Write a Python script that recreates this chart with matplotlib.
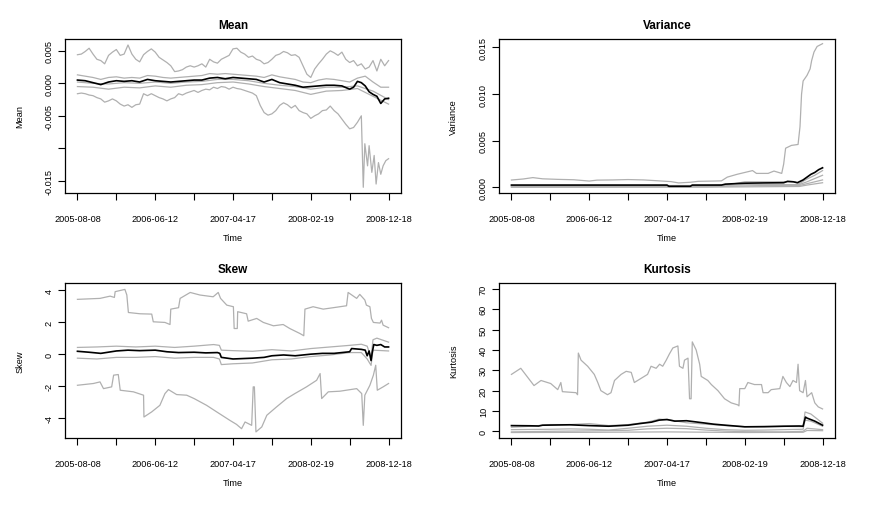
import numpy as np
import matplotlib
matplotlib.use("Agg")
import matplotlib.pyplot as plt

plt.rcParams['font.family'] = ['Liberation Sans', 'DejaVu Sans']

# x positions are given in tick intervals; one interval = 106 trading days
DAYS_PER_TICK = 106
date_labels = ["2005-08-08", "2006-06-12", "2007-04-17", "2008-02-19", "2008-12-18"]

GRID01 = np.round(np.arange(0, 8.05, 0.1), 1)
GRID02 = np.round(np.arange(0, 8.05, 0.2), 1)
GRID04 = np.round(np.arange(0, 8.05, 0.4), 1)

# ---------------- Mean ----------------
mean_max = [0.0044, 0.0045, 0.0049, 0.0054, 0.0045, 0.0037, 0.0035, 0.0030, 0.0043, 0.0048,
            0.0052, 0.0043, 0.0045, 0.0059, 0.0045, 0.0037, 0.0033, 0.0044, 0.0049, 0.0053,
            0.0048, 0.0040, 0.0036, 0.0032, 0.0027, 0.0018, 0.0019, 0.0021, 0.0025, 0.0027,
            0.0025, 0.0027, 0.0030, 0.0025, 0.0037, 0.0033, 0.0031, 0.0037, 0.0040, 0.0043,
            0.0053, 0.0054, 0.0048, 0.0045, 0.0040, 0.0042, 0.0037, 0.0035, 0.0030, 0.0032,
            0.0037, 0.0043, 0.0045, 0.0049, 0.0047, 0.0043, 0.0044, 0.0040, 0.0027, 0.0014,
            0.0009, 0.0022, 0.0030, 0.0037, 0.0045, 0.0050, 0.0047, 0.0043, 0.0048, 0.0037,
            0.0032, 0.0035, 0.0027, 0.0030, 0.0022, 0.0025, 0.0035, 0.0019, 0.0037, 0.0027,
            0.0035]
mean_min_t = list(np.round(np.arange(0, 7.35, 0.1), 1)) + [7.35, 7.39, 7.46, 7.5, 7.57, 7.63,
                                                           7.68, 7.74, 7.8, 7.86, 7.93, 8.0]
mean_min = [-0.0016, -0.0015, -0.0016, -0.0018, -0.0019, -0.0022, -0.0024, -0.0029, -0.0027, -0.0024,
            -0.0027, -0.0032, -0.0035, -0.0033, -0.0037, -0.0033, -0.0032, -0.0016, -0.0019, -0.0016,
            -0.0019, -0.0022, -0.0024, -0.0027, -0.0024, -0.0022, -0.0016, -0.0018, -0.0015, -0.0013,
            -0.0011, -0.0014, -0.0011, -0.0009, -0.0010, -0.0006, -0.0008, -0.0005, -0.0006, -0.0009,
            -0.0006, -0.0008, -0.0009, -0.0011, -0.0013, -0.0015, -0.0019, -0.0034, -0.0045, -0.0049,
            -0.0047, -0.0042, -0.0034, -0.0030, -0.0033, -0.0038, -0.0034, -0.0042, -0.0045, -0.0047,
            -0.0054, -0.0050, -0.0047, -0.0042, -0.0041, -0.0035, -0.0042, -0.0047, -0.0055, -0.0063,
            -0.0070, -0.0068, -0.0060, -0.0050,
            -0.0160, -0.0093, -0.0127, -0.0096, -0.0137, -0.0111, -0.0155, -0.0122, -0.0140, -0.0127,
            -0.0119, -0.0116]
mean_q_hi = [0.0013, 0.0011, 0.0009, 0.0006, 0.0009, 0.0010, 0.0008, 0.0009, 0.0008, 0.0012,
             0.0011, 0.0009, 0.0008, 0.0009, 0.0010, 0.0011, 0.0012, 0.0015, 0.0014, 0.0015,
             0.0014, 0.0013, 0.0012, 0.0011, 0.0009, 0.0013, 0.0010, 0.0008, 0.0006, 0.0002,
             0.0001, 0.0005, 0.0007, 0.0006, 0.0004, 0.0002, 0.0008, 0.0011, 0.0002, -0.0006,
             -0.0006]
mean_q_mid = [0.0002, 0.0000, -0.0001, 0.0001, 0.0000, 0.0002, 0.0000, 0.0002, 0.0003, 0.0006,
              0.0006, 0.0004, 0.0000, -0.0003, -0.0005, -0.0009, -0.0006, -0.0006, -0.0004, -0.0012,
              -0.0025]
mean_q_lo = [-0.0005, -0.0006, -0.0009, -0.0006, -0.0007, -0.0004, -0.0006, -0.0003, -0.0002, 0.0001,
             0.0002, -0.0001, -0.0005, -0.0008, -0.0011, -0.0017, -0.0012, -0.0011, -0.0008, -0.0020,
             -0.0032]
mean_avg_t = list(np.round(np.arange(0, 7.05, 0.2), 1)) + [7.1, 7.2, 7.3, 7.4, 7.5, 7.6, 7.7, 7.8, 7.9, 8.0]
mean_avg = [0.0005, 0.0004, 0.0001, -0.0002, 0.0002, 0.0004, 0.0003, 0.0004, 0.0002, 0.0006,
            0.0004, 0.0003, 0.0002, 0.0003, 0.0004, 0.0005, 0.0005, 0.0008, 0.0009, 0.0007,
            0.0009, 0.0008, 0.0007, 0.0006, 0.0002, 0.0006, 0.0001, -0.0001, -0.0003, -0.0006,
            -0.0005, -0.0004, -0.0003, -0.0003, -0.0004, -0.0009,
            -0.0006, 0.0003, 0.0001, -0.0004, -0.0013, -0.0017, -0.0020, -0.0031, -0.0024, -0.0023]

# ---------------- Variance ----------------
var_max_t = [0, 0.3, 0.55, 0.8, 1.2, 1.6, 2.0, 2.2, 2.6, 3.0, 3.4, 3.8, 4.1, 4.3, 4.6, 4.8, 5.2, 5.4,
             5.55, 5.8, 6.0, 6.2, 6.3, 6.6, 6.75, 6.95, 7.0, 7.05, 7.2, 7.37, 7.42, 7.46, 7.5, 7.6,
             7.68, 7.72, 7.78, 7.86, 8.0]
var_max = [0.00079, 0.0009, 0.00105, 0.00092, 0.00086, 0.00082, 0.00068, 0.00078, 0.0008, 0.00084,
           0.0008, 0.0007, 0.00062, 0.00048, 0.00055, 0.00065, 0.00068, 0.0007, 0.0011, 0.0014,
           0.0016, 0.0018, 0.0015, 0.0015, 0.00175, 0.0015, 0.0025, 0.0042, 0.0045, 0.0046,
           0.0065, 0.0100, 0.0114, 0.0120, 0.0127, 0.0136, 0.0145, 0.0151, 0.0154]
var_g1_t = [0, 3.0, 4.0, 5.0, 5.6, 6.0, 7.0, 7.3, 7.4, 7.6, 7.8, 8.0]
var_g1 = [0.00015, 0.00018, 0.0002, 0.0002, 0.0003, 0.0006, 0.0006, 0.0006, 0.0004, 0.0009, 0.0013, 0.0018]
var_g2_t = [0, 5.0, 6.0, 7.0, 7.4, 7.6, 8.0]
var_g2 = [0.0001, 0.00012, 0.0003, 0.0003, 0.0003, 0.0006, 0.0013]
var_g3_t = [0, 5.0, 6.5, 7.4, 7.6, 8.0]
var_g3 = [0.00005, 0.00008, 0.0002, 0.0002, 0.0004, 0.0008]
var_min_t = [0, 5.0, 7.4, 7.6, 8.0]
var_min = [0.00002, 0.00003, 0.0001, 0.00025, 0.0005]
var_avg_t = [0, 4.0, 4.05, 4.6, 4.65, 5.4, 5.5, 6.0, 6.5, 7.0, 7.1, 7.25, 7.35, 7.5, 7.6, 7.7, 7.8, 7.9, 8.0]
var_avg = [0.00025, 0.00025, 0.00012, 0.00012, 0.00025, 0.00025, 0.00035, 0.00045, 0.00048, 0.0005,
           0.00065, 0.0006, 0.0005, 0.0008, 0.0011, 0.0014, 0.0016, 0.0019, 0.0021]

# ---------------- Skew ----------------
skew_max_t = [0, 0.58, 0.84, 0.95, 0.97, 1.22, 1.27, 1.31, 1.61, 1.91, 1.95, 2.25, 2.38, 2.4, 2.6,
              2.64, 2.9, 3.15, 3.49, 3.62, 3.68, 3.84, 4.01, 4.03, 4.11, 4.12, 4.35, 4.39, 4.61,
              4.78, 5.04, 5.29, 5.46, 5.72, 5.82, 5.85, 6.06, 6.32, 6.58, 6.92, 6.96, 7.18, 7.26,
              7.39, 7.43, 7.52, 7.56, 7.61, 7.78, 7.82, 7.86, 8.0]
skew_max = [3.42, 3.48, 3.62, 3.54, 3.9, 4.04, 3.69, 2.6, 2.52, 2.5, 2.02, 1.98, 1.85, 2.81, 2.9,
            3.48, 3.85, 3.69, 3.58, 3.85, 3.48, 3.06, 2.96, 1.6, 1.6, 2.65, 2.52, 2.06, 2.23,
            1.98, 1.77, 1.85, 1.6, 1.29, 1.15, 2.81, 2.96, 2.81, 2.9, 3.02, 3.85, 3.48, 3.73,
            3.38, 3.06, 2.96, 2.23, 1.98, 1.94, 2.12, 1.81, 1.65]
skew_min_t = [0, 0.41, 0.58, 0.67, 0.88, 0.93, 1.05, 1.1, 1.44, 1.7, 1.71, 1.91, 2.12, 2.25, 2.34,
              2.55, 2.81, 3.0, 3.32, 3.58, 3.92, 4.09, 4.22, 4.31, 4.48, 4.52, 4.55, 4.59, 4.74,
              4.87, 5.12, 5.38, 5.59, 5.89, 6.15, 6.24, 6.28, 6.45, 6.75, 7.18, 7.31, 7.35, 7.39,
              7.52, 7.61, 7.67, 7.71, 7.86, 8.0]
skew_min = [-1.94, -1.83, -1.73, -2.15, -2.04, -1.31, -1.27, -2.25, -2.35, -2.56, -3.92, -3.6, -3.19,
            -2.46, -2.21, -2.52, -2.56, -2.77, -3.19, -3.6, -4.13, -4.38, -4.65, -4.23, -4.44, -2.04,
            -2.04, -4.85, -4.54, -3.81, -3.29, -2.77, -2.46, -2.04, -1.63, -1.21, -2.77, -2.35, -2.31,
            -2.15, -2.46, -4.44, -2.56, -1.94, -1.31, -0.69, -2.25, -2.04, -1.83]
skew_hi_t = [0, 0.5, 1.0, 1.5, 2.0, 2.5, 3.0, 3.5, 3.65, 3.7, 4.0, 4.5, 5.0, 5.5, 6.0, 6.5, 7.0, 7.3,
             7.45, 7.55, 7.6, 7.7, 8.0]
skew_hi = [0.42, 0.45, 0.5, 0.45, 0.5, 0.42, 0.5, 0.6, 0.55, 0.25, 0.22, 0.18, 0.28, 0.2, 0.35, 0.45,
           0.55, 0.62, 0.5, -0.2, 0.9, 1.0, 0.75]
skew_lo_t = [0, 0.5, 1.0, 1.5, 2.0, 2.5, 3.0, 3.5, 3.65, 3.7, 4.0, 4.5, 5.0, 5.5, 6.0, 6.5, 7.0, 7.3,
             7.45, 7.55, 7.6, 8.0]
skew_lo = [-0.25, -0.3, -0.2, -0.2, -0.15, -0.25, -0.2, -0.2, -0.3, -0.65, -0.6, -0.55, -0.35, -0.3,
           -0.15, -0.05, 0.1, 0.1, -0.3, -0.7, 0.25, 0.2]
skew_avg_t = [0, 0.3, 0.6, 1.0, 1.3, 1.6, 2.0, 2.3, 2.6, 3.0, 3.3, 3.6, 3.66, 3.7, 4.0, 4.5, 4.8, 5.0,
              5.3, 5.6, 6.0, 6.3, 6.6, 7.0, 7.05, 7.3, 7.4, 7.45, 7.5, 7.55, 7.58, 7.62, 7.7, 7.8, 7.9, 8.0]
skew_avg = [0.18, 0.12, 0.05, 0.2, 0.25, 0.22, 0.25, 0.15, 0.1, 0.12, 0.08, 0.1, 0.05, -0.2, -0.3,
            -0.25, -0.2, -0.1, -0.05, -0.1, 0.0, 0.05, 0.05, 0.15, 0.35, 0.3, 0.25, -0.1, 0.2, -0.4,
            0.1, 0.6, 0.55, 0.6, 0.45, 0.45]

# ---------------- Kurtosis ----------------
kurt_max_t = [0, 0.24, 0.58, 0.76, 1.01, 1.19, 1.27, 1.31, 1.66, 1.7, 1.72, 1.79, 1.96, 2.13, 2.22,
              2.3, 2.47, 2.56, 2.65, 2.82, 2.95, 3.08, 3.16, 3.33, 3.5, 3.59, 3.72, 3.81, 3.89, 3.98,
              4.06, 4.15, 4.28, 4.32, 4.41, 4.45, 4.54, 4.58, 4.62, 4.65, 4.75, 4.84, 4.88, 5.05,
              5.14, 5.31, 5.48, 5.65, 5.82, 5.85, 5.87, 6.0, 6.08, 6.25, 6.43, 6.47, 6.6, 6.68,
              6.9, 6.98, 7.07, 7.16, 7.24, 7.33, 7.37, 7.41, 7.5, 7.56, 7.6, 7.72, 7.8, 7.89, 8.0]
kurt_max = [28, 31, 22.5, 25, 23.5, 20.5, 24, 19.5, 19, 18, 38.5, 35, 32, 28, 24,
            20, 18, 19, 25, 28, 29.5, 29, 24, 26, 28, 32, 31, 33, 32, 35,
            38, 41, 42, 32, 31, 35, 36, 16, 16, 44, 40, 33, 27, 25,
            23, 20, 16, 14, 13, 12.5, 21, 21, 24, 23, 23, 19, 19, 20.5,
            21, 27, 24, 22, 25, 24, 33, 20, 19, 25, 17, 19, 14, 12, 11]
kurt_g1_t = [0, 0.5, 1.0, 1.5, 2.0, 2.5, 3.0, 3.5, 3.8, 4.1, 4.5, 5.0, 5.5, 6.0, 6.5, 7.0, 7.5, 7.55, 7.7, 8.0]
kurt_g1 = [2.0, 2.5, 3.3, 3.3, 3.8, 2.8, 3.3, 4.5, 6.0, 5.5, 4.2, 3.5, 2.8, 2.3, 2.2, 2.4, 2.3, 9.5, 8.5, 4.0]
kurt_g2_t = [0, 0.5, 1.0, 1.5, 2.0, 2.5, 3.0, 3.5, 4.0, 4.5, 5.0, 5.5, 6.0, 6.5, 7.0, 7.5, 7.55, 7.7, 8.0]
kurt_g2 = [0.8, 0.9, 1.0, 1.2, 1.0, 0.6, 1.5, 2.5, 3.0, 2.5, 1.5, 0.8, 0.5, 0.6, 0.8, 1.0, 5.5, 5.0, 2.5]
kurt_g3_t = [0, 1.0, 2.0, 3.0, 3.5, 4.0, 4.5, 5.0, 5.5, 6.0, 7.0, 7.5, 7.6, 8.0]
kurt_g3 = [-0.3, 0.0, 0.2, 0.5, 1.2, 1.5, 1.3, 0.6, 0.1, -0.2, -0.3, 0.0, 1.5, 0.8]
kurt_min_t = [0, 2.0, 4.0, 6.0, 7.5, 7.6, 8.0]
kurt_min = [-0.6, -0.5, -0.3, -0.6, -0.5, 0.4, 0.3]
kurt_avg_t = [0, 0.5, 0.7, 0.8, 1.5, 2.0, 2.5, 3.0, 3.3, 3.6, 3.8, 4.0, 4.2, 4.5, 5.0, 5.2, 5.5, 6.0,
              6.5, 7.0, 7.4, 7.5, 7.56, 7.6, 7.8, 8.0]
kurt_avg = [2.8, 2.7, 2.6, 3.0, 3.2, 2.8, 2.5, 3.0, 3.8, 4.5, 5.5, 5.8, 5.0, 5.2, 4.0, 3.5, 3.0, 2.2,
            2.3, 2.5, 2.6, 2.5, 7.0, 6.5, 5.0, 3.0]

GREY = "#b0b0b0"


def days(t):
    return np.asarray(t) * DAYS_PER_TICK


def panel(ax, greys, avg, title, ylabel, ylim, yticks, yticklabels):
    for t, v in greys:
        ax.plot(days(t), v, color=GREY, lw=0.9)
    ax.plot(days(avg[0]), avg[1], color="black", lw=1.2)
    n = 8 * DAYS_PER_TICK
    ax.set_xlim(-0.04 * n, 1.04 * n)
    ax.set_ylim(*ylim)
    ax.set_xticks(np.arange(9) * DAYS_PER_TICK)
    ax.set_xticklabels([date_labels[i // 2] if i % 2 == 0 else "" for i in range(9)])
    ax.set_yticks(yticks)
    ax.set_yticklabels(yticklabels, rotation=90, va="center")
    ax.tick_params(axis="x", direction="out", length=5, width=0.8, labelsize=6.6, pad=10)
    ax.tick_params(axis="y", direction="out", length=5, width=0.8, labelsize=6.6, pad=3)
    for s in ax.spines.values():
        s.set_linewidth(0.9)
    ax.set_title(title, fontsize=8.5, fontweight="bold", pad=8)
    ax.set_xlabel("Time", fontsize=6.6, labelpad=7)
    ax.set_ylabel(ylabel, fontsize=6.6, labelpad=15)


fig = plt.figure(figsize=(8.69, 5.06), dpi=100)
W, H = 869, 506
ax1 = fig.add_axes([65 / W, 1 - 194 / H, 336 / W, 154 / H])
ax2 = fig.add_axes([499 / W, 1 - 194 / H, 336 / W, 154 / H])
ax3 = fig.add_axes([65 / W, 1 - 439 / H, 336 / W, 155 / H])
ax4 = fig.add_axes([499 / W, 1 - 439 / H, 336 / W, 155 / H])

panel(ax1,
      [(GRID01, mean_max), (mean_min_t, mean_min), (GRID02, mean_q_hi),
       (GRID04, mean_q_mid), (GRID04, mean_q_lo)],
      (mean_avg_t, mean_avg), "Mean", "Mean", (-0.01688, 0.00682),
      [0.005, 0.0, -0.005, -0.010, -0.015], ["0.005", "0.000", "-0.005", "", "-0.015"])

panel(ax2,
      [(var_max_t, var_max), (var_g1_t, var_g1), (var_g2_t, var_g2),
       (var_g3_t, var_g3), (var_min_t, var_min)],
      (var_avg_t, var_avg), "Variance", "Variance", (-0.0006, 0.0159),
      [0.0, 0.005, 0.010, 0.015], ["0.000", "0.005", "0.010", "0.015"])

panel(ax3,
      [(skew_max_t, skew_max), (skew_min_t, skew_min), (skew_hi_t, skew_hi), (skew_lo_t, skew_lo)],
      (skew_avg_t, skew_avg), "Skew", "Skew", (-5.23, 4.44),
      [-4, -2, 0, 2, 4], ["-4", "-2", "0", "2", "4"])

panel(ax4,
      [(kurt_max_t, kurt_max), (kurt_g1_t, kurt_g1), (kurt_g2_t, kurt_g2),
       (kurt_g3_t, kurt_g3), (kurt_min_t, kurt_min)],
      (kurt_avg_t, kurt_avg), "Kurtosis", "Kurtosis", (-3.3, 72.97),
      list(range(0, 71, 10)), [str(v) for v in range(0, 71, 10)])

fig.savefig("out.png", dpi=100)
